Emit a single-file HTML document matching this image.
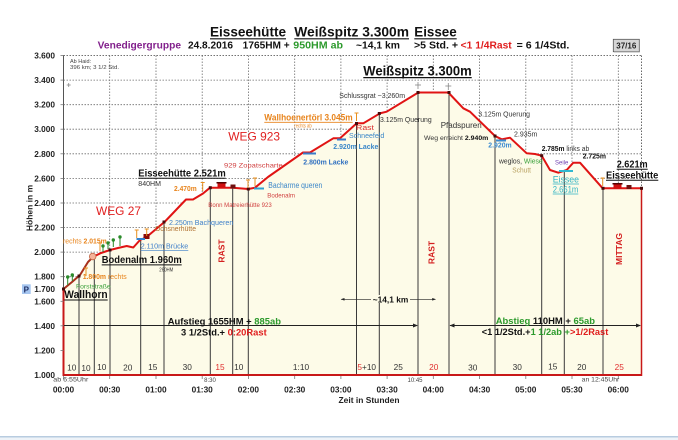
<!DOCTYPE html>
<html><head><meta charset="utf-8"><style>
html,body{margin:0;padding:0;background:#fff;}
svg{display:block;font-family:"Liberation Sans",Arial,sans-serif;}
</style></head><body>
<svg width="678" height="440" viewBox="0 0 678 440" xmlns="http://www.w3.org/2000/svg">
<rect x="0" y="0" width="678" height="440" fill="#fff"/>

<!-- grid -->
<g stroke="#6e6e6e" stroke-width="0.8" stroke-dasharray="1.5,1.5" fill="none">
<line x1="63.5" y1="276.7" x2="641.5" y2="276.7"/>
<line x1="63.5" y1="252.1" x2="641.5" y2="252.1"/>
<line x1="63.5" y1="227.5" x2="641.5" y2="227.5"/>
<line x1="63.5" y1="203" x2="641.5" y2="203"/>
<line x1="63.5" y1="178.4" x2="641.5" y2="178.4"/>
<line x1="63.5" y1="153.8" x2="641.5" y2="153.8"/>
<line x1="63.5" y1="129.2" x2="641.5" y2="129.2"/>
<line x1="63.5" y1="104.7" x2="641.5" y2="104.7"/>
<line x1="63.5" y1="80.1" x2="641.5" y2="80.1"/>
<line x1="63.5" y1="55.5" x2="641.5" y2="55.5" stroke="#444"/>
<line x1="109.7" y1="55.5" x2="109.7" y2="375"/>
<line x1="156" y1="55.5" x2="156" y2="375"/>
<line x1="202.2" y1="55.5" x2="202.2" y2="375"/>
<line x1="248.4" y1="55.5" x2="248.4" y2="375"/>
<line x1="294.7" y1="55.5" x2="294.7" y2="375"/>
<line x1="340.9" y1="55.5" x2="340.9" y2="375"/>
<line x1="387.1" y1="55.5" x2="387.1" y2="375"/>
<line x1="433.3" y1="55.5" x2="433.3" y2="375"/>
<line x1="479.6" y1="55.5" x2="479.6" y2="375"/>
<line x1="525.8" y1="55.5" x2="525.8" y2="375"/>
<line x1="572" y1="55.5" x2="572" y2="375"/>
<line x1="618.3" y1="55.5" x2="618.3" y2="375"/>
<line x1="641.5" y1="55.5" x2="641.5" y2="188" stroke="#444"/>
</g>

<!-- fill -->
<polygon fill="#fdfbe8" points="63.5,289 72,282 80,275 88,262 93.3,256.7 101,253 110,250 118,248 126.7,246 133.3,247.5 140,240 146,237.5 165,221.5 186,199.5 193,199.5 203,193.5 210,187.7 233,187.7 248.3,189 255,187.7 268,177 303,152.5 310,152.5 333.3,138.3 340,138.3 356.7,123.3 363.3,123.3 380,113.3 386.7,111.7 418.3,92.5 448.3,92.5 463.3,108.3 470,111.7 495,136 501.7,139.3 510,137.7 526.7,153.3 535,154 541.7,155.7 550,170 558.3,172.7 566.7,170 573.3,162.7 580,162.7 602.7,188.3 641.5,188.3 641.5,375 63.5,375"/>

<!-- drop lines -->
<g stroke="#3a3a3a" stroke-width="1">
<line x1="79" y1="276" x2="79" y2="375"/>
<line x1="94.3" y1="256.5" x2="94.3" y2="375"/>
<line x1="110" y1="250" x2="110" y2="375"/>
<line x1="140.7" y1="239.7" x2="140.7" y2="375"/>
<line x1="164" y1="222.3" x2="164" y2="375"/>
<line x1="210.3" y1="187.7" x2="210.3" y2="375"/>
<line x1="232.7" y1="187.7" x2="232.7" y2="375"/>
<line x1="248.3" y1="189" x2="248.3" y2="375"/>
<line x1="356.5" y1="123.5" x2="356.5" y2="375"/>
<line x1="379.3" y1="113.5" x2="379.3" y2="375"/>
<line x1="418" y1="92.5" x2="418" y2="375"/>
<line x1="449" y1="92.5" x2="449" y2="375"/>
<line x1="495" y1="136" x2="495" y2="375"/>
<line x1="541.7" y1="155.7" x2="541.7" y2="375"/>
<line x1="564.3" y1="170.7" x2="564.3" y2="375"/>
<line x1="603" y1="188.3" x2="603" y2="375"/>
</g>

<!-- axes -->
<line x1="63.5" y1="55.5" x2="63.5" y2="289" stroke="#555" stroke-width="1"/>
<line x1="63.5" y1="289" x2="63.5" y2="376" stroke="#c81818" stroke-width="2"/>
<line x1="641.5" y1="188" x2="641.5" y2="376" stroke="#c81818" stroke-width="1.5"/>
<line x1="62.5" y1="375" x2="642" y2="375" stroke="#c81818" stroke-width="2"/>
<g stroke="#777" stroke-width="0.8">
<line x1="63.5" y1="376" x2="63.5" y2="379"/><line x1="109.7" y1="376" x2="109.7" y2="379"/><line x1="156" y1="376" x2="156" y2="379"/><line x1="202.2" y1="376" x2="202.2" y2="379"/><line x1="248.4" y1="376" x2="248.4" y2="379"/><line x1="294.7" y1="376" x2="294.7" y2="379"/><line x1="340.9" y1="376" x2="340.9" y2="379"/><line x1="387.1" y1="376" x2="387.1" y2="379"/><line x1="433.3" y1="376" x2="433.3" y2="379"/><line x1="479.6" y1="376" x2="479.6" y2="379"/><line x1="525.8" y1="376" x2="525.8" y2="379"/><line x1="572" y1="376" x2="572" y2="379"/><line x1="618.3" y1="376" x2="618.3" y2="379"/>
<line x1="60.5" y1="55.5" x2="63.5" y2="55.5"/><line x1="60.5" y1="80.1" x2="63.5" y2="80.1"/><line x1="60.5" y1="104.7" x2="63.5" y2="104.7"/><line x1="60.5" y1="129.2" x2="63.5" y2="129.2"/><line x1="60.5" y1="153.8" x2="63.5" y2="153.8"/><line x1="60.5" y1="178.4" x2="63.5" y2="178.4"/><line x1="60.5" y1="203" x2="63.5" y2="203"/><line x1="60.5" y1="227.5" x2="63.5" y2="227.5"/><line x1="60.5" y1="252.1" x2="63.5" y2="252.1"/><line x1="60.5" y1="276.7" x2="63.5" y2="276.7"/><line x1="60.5" y1="301.3" x2="63.5" y2="301.3"/><line x1="60.5" y1="325.8" x2="63.5" y2="325.8"/><line x1="60.5" y1="350.4" x2="63.5" y2="350.4"/>
</g>

<!-- arrow lines -->
<g stroke="#222" stroke-width="0.9" fill="#222">
<line x1="64" y1="325.5" x2="417" y2="325.5"/>
<polygon points="418,325.5 413,323.5 413,327.5" stroke="none"/>
<line x1="450" y1="325.5" x2="640" y2="325.5"/>
<polygon points="449.5,325.5 454.5,323.5 454.5,327.5" stroke="none"/>
<polygon points="641,325.5 636,323.5 636,327.5" stroke="none"/>
<line x1="341" y1="299.3" x2="371" y2="299.3" stroke-width="0.6"/>
<line x1="410" y1="299.3" x2="435.5" y2="299.3" stroke-width="0.6"/>
<polygon points="340.7,299.3 344.5,298 344.5,300.6" stroke="none"/>
<polygon points="436,299.3 432.2,298 432.2,300.6" stroke="none"/>
</g>

<!-- profile -->
<polyline fill="none" stroke="#e01414" stroke-width="2" stroke-linejoin="round" points="93.3,256.7 101,253 110,250 118,248 126.7,246 133.3,247.5 140,240 146,237.5 165,221.5 186,199.5 193,199.5 203,193.5 210,187.7 233,187.7 248.3,189 255,187.7 268,177 303,152.5 310,152.5 333.3,138.3 340,138.3 356.7,123.3 363.3,123.3 380,113.3 386.7,111.7 418.3,92.5 448.3,92.5 463.3,108.3 470,111.7 495,136 501.7,139.3 510,137.7 526.7,153.3 535,154 541.7,155.7 550,170 558.3,172.7 566.7,170 573.3,162.7 580,162.7 602.7,188.3 641.5,188.3"/>
<polyline fill="none" stroke="#a8301c" stroke-width="2" stroke-linejoin="round" points="63.5,289 72,282 80,275 88,262 93.3,256.7"/>

<!-- markers -->
<g fill="#4a0a0a">
<rect x="62" y="287.5" width="3" height="3"/><rect x="77.5" y="274.5" width="3" height="3"/><rect x="108.5" y="248.5" width="3" height="3"/><rect x="162.5" y="220.5" width="3" height="3"/><rect x="208.8" y="186.2" width="3" height="3"/><rect x="246.8" y="187.5" width="3" height="3"/><rect x="355" y="122" width="3" height="3"/><rect x="377.8" y="112" width="3" height="3"/><rect x="416.5" y="91" width="3" height="3"/><rect x="447.5" y="91" width="3" height="3"/><rect x="493.5" y="134.5" width="3" height="3"/><rect x="540.2" y="154.2" width="3" height="3"/><rect x="601.5" y="186.8" width="3" height="3"/><rect x="640" y="186.8" width="3" height="3"/>
</g>
<!-- huts -->
<rect x="217.5" y="183" width="8" height="4.5" fill="#d01010"/><rect x="216.5" y="182" width="10" height="1.5" fill="#500"/>
<rect x="230.5" y="184.5" width="5" height="4" fill="#701010"/>
<rect x="613.5" y="184" width="8" height="4.5" fill="#d01010"/><rect x="612.5" y="183" width="10" height="1.5" fill="#500"/>
<rect x="626.5" y="185" width="5" height="4" fill="#701010"/>
<rect x="143.5" y="234" width="6" height="5" fill="#8a0a0a"/>
<line x1="136.5" y1="239" x2="145" y2="239" stroke="#3080d0" stroke-width="2"/>
<circle cx="92.7" cy="256.5" r="3.3" fill="#f6b49a" stroke="#c06848" stroke-width="0.8"/>
<!-- small blue bars -->
<g stroke-width="2">
<line x1="303" y1="153.5" x2="316" y2="153.5" stroke="#3a7cc8"/>
<line x1="337" y1="139.5" x2="346" y2="139.5" stroke="#3a7cc8"/>
<line x1="496" y1="140.5" x2="506" y2="140.5" stroke="#3a8ad0"/>
<line x1="559" y1="171" x2="573" y2="171" stroke="#30b8d0"/>
<line x1="254" y1="188.5" x2="264" y2="188.5" stroke="#30a0d0"/>
</g>
<!-- orange / green pins -->
<g stroke="#e89020" stroke-width="1" fill="#e89020">
<line x1="136.7" y1="230" x2="136.7" y2="238"/><line x1="134.7" y1="230" x2="138.7" y2="230"/>
<line x1="146.7" y1="229" x2="146.7" y2="236"/><line x1="144.7" y1="229" x2="148.7" y2="229"/>
<line x1="202.7" y1="182.5" x2="202.7" y2="191"/><line x1="200.7" y1="182.5" x2="204.7" y2="182.5"/>
<line x1="248" y1="180" x2="248" y2="188"/><line x1="246" y1="180" x2="250" y2="180"/>
<line x1="255" y1="178" x2="255" y2="186"/><line x1="253" y1="178" x2="257" y2="178"/>
<line x1="356.5" y1="113" x2="356.5" y2="121"/><line x1="354.5" y1="113" x2="358.5" y2="113"/>
<line x1="602.7" y1="178" x2="602.7" y2="186"/><line x1="600.7" y1="178" x2="604.7" y2="178"/>
<line x1="86" y1="268" x2="86" y2="276"/><line x1="84" y1="268" x2="88" y2="268"/>
<line x1="100" y1="243" x2="100" y2="251"/><line x1="98" y1="243" x2="102" y2="243"/>
</g>
<g stroke="#2a8a2a" stroke-width="1" fill="#2a8a2a">
<line x1="67.7" y1="277" x2="67.7" y2="285"/><circle cx="67.7" cy="277" r="1.2"/>
<line x1="72.3" y1="275" x2="72.3" y2="281"/><circle cx="72.3" cy="275" r="1.2"/>
<line x1="103" y1="246" x2="103" y2="252"/><circle cx="103" cy="246" r="1.2"/>
<line x1="108" y1="243" x2="108" y2="249"/><circle cx="108" cy="243" r="1.2"/>
<line x1="113.3" y1="240" x2="113.3" y2="247"/><circle cx="113.3" cy="240" r="1.2"/>
<line x1="120" y1="237" x2="120" y2="246"/><circle cx="120" cy="237" r="1.2"/>
</g>
<g stroke="#888" stroke-width="0.8">
<line x1="418" y1="82" x2="418" y2="89"/><line x1="415" y1="85" x2="421" y2="85"/>
<line x1="448.3" y1="83" x2="448.3" y2="90"/><line x1="445.3" y1="86" x2="451.3" y2="86"/>
<line x1="68.7" y1="83" x2="68.7" y2="87"/><line x1="66.7" y1="85" x2="70.7" y2="85"/>
</g>

<!-- title -->
<g font-weight="bold" font-size="13.5" fill="#111">
<text x="210" y="36.7" textLength="76" lengthAdjust="spacingAndGlyphs">Eisseehütte</text>
<text x="294.3" y="36.7" textLength="114.7" lengthAdjust="spacingAndGlyphs">Weißspitz 3.300m</text>
<text x="414.3" y="36.7" textLength="42.4" lengthAdjust="spacingAndGlyphs">Eissee</text>
</g>
<g stroke="#111" stroke-width="1.2">
<line x1="210" y1="38.8" x2="286" y2="38.8"/><line x1="294.3" y1="38.8" x2="409" y2="38.8"/><line x1="414.3" y1="38.8" x2="456.7" y2="38.8"/>
</g>
<g font-weight="bold" font-size="10" fill="#111">
<text x="97.7" y="48.7" fill="#82208c" textLength="83.3" lengthAdjust="spacingAndGlyphs">Venedigergruppe</text>
<text x="188" y="48.7" textLength="45" lengthAdjust="spacingAndGlyphs">24.8.2016</text>
<text x="242.7" y="48.7" textLength="47" lengthAdjust="spacingAndGlyphs">1765HM +</text>
<text x="293.3" y="48.7" fill="#2c9a2c" textLength="49.7" lengthAdjust="spacingAndGlyphs">950HM ab</text>
<text x="356" y="48.7" textLength="44" lengthAdjust="spacingAndGlyphs">~14,1 km</text>
<text x="414" y="48.7" textLength="44" lengthAdjust="spacingAndGlyphs">&gt;5 Std. +</text>
<text x="460.7" y="48.7" fill="#e01c1c" textLength="51" lengthAdjust="spacingAndGlyphs">&lt;1 1/4Rast</text>
<text x="516.7" y="48.7" textLength="52.6" lengthAdjust="spacingAndGlyphs">= 6 1/4Std.</text>
</g>
<rect x="613.3" y="39.3" width="26" height="12.4" fill="#d6d6d6" stroke="#555" stroke-width="0.8"/>
<line x1="614" y1="51.9" x2="639.8" y2="51.9" stroke="#888" stroke-width="0.8"/>
<text x="626.3" y="48.6" font-size="8" font-weight="bold" text-anchor="middle" fill="#222">37/16</text>

<!-- y labels -->
<g font-size="8.3" font-weight="bold" fill="#222" text-anchor="end">
<text x="55" y="58.5">3.600</text><text x="55" y="83.1">3.400</text><text x="55" y="107.7">3.200</text><text x="55" y="132.2">3.000</text><text x="55" y="156.8">2.800</text><text x="55" y="181.4">2.600</text><text x="55" y="206">2.400</text><text x="55" y="230.5">2.200</text><text x="55" y="255.1">2.000</text><text x="55" y="279.7">1.800</text><text x="55" y="292">1.700</text><text x="55" y="304.3">1.600</text><text x="55" y="328.8">1.400</text><text x="55" y="353.4">1.200</text><text x="55" y="378">1.000</text>
</g>
<text transform="translate(32.5,208) rotate(-90)" font-size="8.5" font-weight="bold" fill="#222" text-anchor="middle">Höhen in m</text>
<rect x="22" y="284.3" width="8.7" height="9.7" fill="#a6c6f0"/>
<text x="26.3" y="292.3" font-size="8" font-weight="bold" fill="#1a2a60" text-anchor="middle">P</text>

<!-- x labels -->
<g font-size="8.3" font-weight="bold" fill="#222" text-anchor="middle">
<text x="63.5" y="392.5">00:00</text><text x="109.7" y="392.5">00:30</text><text x="156" y="392.5">01:00</text><text x="202.2" y="392.5">01:30</text><text x="248.4" y="392.5">02:00</text><text x="294.7" y="392.5">02:30</text><text x="340.9" y="392.5">03:00</text><text x="387.1" y="392.5">03:30</text><text x="433.3" y="392.5">04:00</text><text x="479.6" y="392.5">04:30</text><text x="525.8" y="392.5">05:00</text><text x="572" y="392.5">05:30</text><text x="618.3" y="392.5">06:00</text>
<text x="369" y="403" textLength="61" lengthAdjust="spacingAndGlyphs">Zeit in Stunden</text>
</g>
<g font-size="6" fill="#444">
<text x="53.3" y="381.5" textLength="35" lengthAdjust="spacingAndGlyphs">ab 6:55Uhr</text>
<text x="210" y="382" text-anchor="middle">8:30</text>
<text x="415" y="382" text-anchor="middle">10:45</text>
<text x="581.7" y="381.5" textLength="37.6" lengthAdjust="spacingAndGlyphs">an 12:45Uhr</text>
</g>

<!-- segment durations -->
<g font-size="8.3" fill="#333" text-anchor="middle">
<text x="71.7" y="370.5">10</text><text x="86" y="371">10</text><text x="101.7" y="370">10</text><text x="127.7" y="370.5">20</text><text x="152.7" y="370">15</text><text x="187.3" y="370">30</text><text x="220" y="370" fill="#e03030">15</text><text x="238.7" y="370">10</text><text x="301" y="370">1:10</text>
<text x="366.7" y="370"><tspan fill="#e03030">5</tspan>+10</text><text x="398.3" y="370">25</text><text x="433.7" y="370" fill="#e03030">20</text><text x="472.7" y="370.5">30</text><text x="517.3" y="370">30</text><text x="552.7" y="369.5">15</text><text x="581.7" y="370">20</text><text x="619.3" y="370" fill="#e03030">25</text>
</g>

<!-- summary texts -->
<g font-size="9.5" font-weight="bold" fill="#111">
<text x="167.7" y="324.3" textLength="113.3" lengthAdjust="spacingAndGlyphs">Aufstieg 1655HM + <tspan fill="#2c9a2c">885ab</tspan></text>
<text x="181" y="335.3" textLength="85.7" lengthAdjust="spacingAndGlyphs">3 1/2Std.+ <tspan fill="#e01c1c">0:20Rast</tspan></text>
<text x="495.7" y="324" textLength="99.3" lengthAdjust="spacingAndGlyphs"><tspan fill="#2c9a2c">Abstieg</tspan> 110HM + <tspan fill="#2c9a2c">65ab</tspan></text>
<text x="481.7" y="335" textLength="126.6" lengthAdjust="spacingAndGlyphs">&lt;1 1/2Std.+<tspan fill="#2c9a2c">1 1/2ab +</tspan><tspan fill="#e01c1c">&gt;1/2Rast</tspan></text>
</g>
<rect x="372" y="295" width="37" height="8" fill="#fdfbe8"/>
<text x="372.7" y="302.5" font-size="8.5" font-weight="bold" fill="#111" textLength="35.6" lengthAdjust="spacingAndGlyphs">~14,1 km</text>

<!-- vertical labels -->
<g font-size="8.5" font-weight="bold" fill="#d42020" text-anchor="middle">
<text transform="translate(224.5,251) rotate(-90)">RAST</text>
<text transform="translate(434.7,252.5) rotate(-90)">RAST</text>
<text transform="translate(622,249) rotate(-90)" textLength="32" lengthAdjust="spacingAndGlyphs">MITTAG</text>
</g>

<!-- annotations -->
<g font-size="5.5" fill="#444">
<text x="70" y="63">Ab Haid:</text>
<text x="70" y="69" textLength="49" lengthAdjust="spacingAndGlyphs">396 km; 3 1/2 Std.</text>
</g>
<text x="363.3" y="75.5" font-size="13.5" font-weight="bold" fill="#111" textLength="108.4" lengthAdjust="spacingAndGlyphs">Weißspitz 3.300m</text>
<line x1="363.3" y1="77.6" x2="471.7" y2="77.6" stroke="#111" stroke-width="1.2"/>

<g font-size="7" fill="#333">
<text x="339.3" y="98" textLength="65.7" lengthAdjust="spacingAndGlyphs">Schlussgrat ~3.260m</text>
<text x="478.3" y="116.5" textLength="51.7" lengthAdjust="spacingAndGlyphs">3.125m Querung</text>
<text x="380" y="121.8" textLength="51.7" lengthAdjust="spacingAndGlyphs">3.125m Querung</text>
<text x="440.7" y="128" font-size="8.5" textLength="41" lengthAdjust="spacingAndGlyphs">Pfadspuren</text>
<text x="424" y="139.8" font-size="6.8" textLength="64.3" lengthAdjust="spacingAndGlyphs">Weg erreicht <tspan font-weight="bold" fill="#111">2.940m</tspan></text>
<text x="488.3" y="147.5" font-weight="bold" fill="#3a8ad0" textLength="23.4" lengthAdjust="spacingAndGlyphs">2.920m</text>
<text x="514" y="136.5" textLength="23.3" lengthAdjust="spacingAndGlyphs">2.935m</text>
<text x="541.7" y="151.2" textLength="47.6" lengthAdjust="spacingAndGlyphs"><tspan font-weight="bold" fill="#111">2.785m</tspan> links ab</text>
<text x="582.7" y="158.5" font-weight="bold" fill="#111" textLength="23.3" lengthAdjust="spacingAndGlyphs">2.725m</text>
<text x="499" y="163.5" textLength="43.7" lengthAdjust="spacingAndGlyphs">weglos, <tspan fill="#3aa03a">Wiese</tspan></text>
<text x="512.3" y="172.5" fill="#b8a060" textLength="18.7" lengthAdjust="spacingAndGlyphs">Schutt</text>
<text x="555" y="164.5" font-size="6" fill="#7040b0" textLength="13.3" lengthAdjust="spacingAndGlyphs">Seile</text>
<text x="138.3" y="185.8" textLength="22.7" lengthAdjust="spacingAndGlyphs">840HM</text>
<text x="159.3" y="271.5" font-size="5.5" textLength="14" lengthAdjust="spacingAndGlyphs">260HM</text>
</g>

<g font-size="9.5" fill="#30b4c4">
<text x="552.7" y="182.5" textLength="26.3" lengthAdjust="spacingAndGlyphs">Eissee</text>
<text x="552.7" y="192.5" textLength="25.6" lengthAdjust="spacingAndGlyphs">2.661m</text>
</g>
<g stroke="#30b4c4" stroke-width="0.8"><line x1="552.7" y1="184" x2="579" y2="184"/><line x1="552.7" y1="194" x2="578.3" y2="194"/></g>

<g font-size="10.5" font-weight="bold" fill="#111">
<text x="616.7" y="167.5" textLength="31" lengthAdjust="spacingAndGlyphs">2.621m</text>
<text x="606" y="178.5" textLength="52.3" lengthAdjust="spacingAndGlyphs">Eisseehütte</text>
<text x="138.3" y="176.3" textLength="87.4" lengthAdjust="spacingAndGlyphs">Eisseehütte 2.521m</text>
<text x="101.7" y="263" textLength="80" lengthAdjust="spacingAndGlyphs">Bodenalm 1.960m</text>
<text x="64.3" y="298" font-size="11" textLength="43.4" lengthAdjust="spacingAndGlyphs">Wallhorn</text>
</g>
<g stroke="#111" stroke-width="1">
<line x1="616.7" y1="169.3" x2="647.7" y2="169.3"/><line x1="606" y1="180.3" x2="658.3" y2="180.3"/><line x1="138.3" y1="178.2" x2="225.7" y2="178.2"/><line x1="101.7" y1="264.9" x2="181.7" y2="264.9"/><line x1="64.3" y1="300" x2="107.7" y2="300"/>
</g>

<g font-size="12" fill="#e02020">
<text x="96" y="215" textLength="45" lengthAdjust="spacingAndGlyphs">WEG 27</text>
<text x="228.3" y="140.3" textLength="51.7" lengthAdjust="spacingAndGlyphs">WEG 923</text>
</g>

<g font-size="7.5">
<text x="174" y="191" font-weight="bold" fill="#e8841c" textLength="22.7" lengthAdjust="spacingAndGlyphs">2.470m</text>
<text x="169" y="225" fill="#4080c8" textLength="64.3" lengthAdjust="spacingAndGlyphs">2.250m Bachqueren</text>
<text x="155" y="231" fill="#b07030" textLength="41" lengthAdjust="spacingAndGlyphs">Ochsnerhütte</text>
<text x="140.7" y="248.7" fill="#3a7cc8" textLength="47.6" lengthAdjust="spacingAndGlyphs">2.110m Brücke</text>
<text x="63" y="243.3" fill="#e8841c" textLength="43.7" lengthAdjust="spacingAndGlyphs">rechts <tspan font-weight="bold">2.015m</tspan></text>
<text x="82.7" y="279" fill="#e8841c" textLength="44" lengthAdjust="spacingAndGlyphs"><tspan font-weight="bold">1.800m</tspan> rechts</text>
<text x="76" y="288.5" font-size="6.5" fill="#3aa03a" textLength="34.7" lengthAdjust="spacingAndGlyphs">Forststraße</text>
<text x="268.3" y="188" font-size="8" fill="#3a86c8" textLength="54" lengthAdjust="spacingAndGlyphs">Bacharme queren</text>
<text x="303.3" y="164.5" font-weight="bold" fill="#3070c0" textLength="45" lengthAdjust="spacingAndGlyphs">2.800m Lacke</text>
<text x="333.3" y="148.8" font-weight="bold" fill="#3a86c8" textLength="45" lengthAdjust="spacingAndGlyphs">2.920m Lacke</text>
<text x="349" y="138" fill="#3a86c8" textLength="35.3" lengthAdjust="spacingAndGlyphs">Schneefeld</text>
<text x="356" y="130" font-size="7" fill="#d83030" textLength="18" lengthAdjust="spacingAndGlyphs">Rast</text>
</g>
<line x1="140.7" y1="250.3" x2="188.3" y2="250.3" stroke="#3a7cc8" stroke-width="0.7"/>
<g font-size="6.5" fill="#d04040">
<text x="224" y="167.3" textLength="58.7" lengthAdjust="spacingAndGlyphs">929 Zopatscharte</text>
<text x="267.3" y="197.5" textLength="27.7" lengthAdjust="spacingAndGlyphs">Bodenalm</text>
<text x="208.3" y="206.8" textLength="63.4" lengthAdjust="spacingAndGlyphs">Bonn Matreierhütte 923</text>
</g>
<text x="264.3" y="120.5" font-size="9.5" font-weight="bold" fill="#e8841c" textLength="88.4" lengthAdjust="spacingAndGlyphs">Wallhoenertörl 3.045m</text>
<line x1="264.3" y1="122.3" x2="352.7" y2="122.3" stroke="#e8841c" stroke-width="0.9"/>
<text x="294.3" y="127.5" font-size="5.5" fill="#e8841c" textLength="17.4" lengthAdjust="spacingAndGlyphs">rechts ab</text>

<!-- bottom border -->
<rect x="0" y="436" width="678" height="1.5" fill="#b8cce0"/>
<rect x="0" y="437.5" width="678" height="2.5" fill="#eef3f8"/>
</svg>
</body></html>
